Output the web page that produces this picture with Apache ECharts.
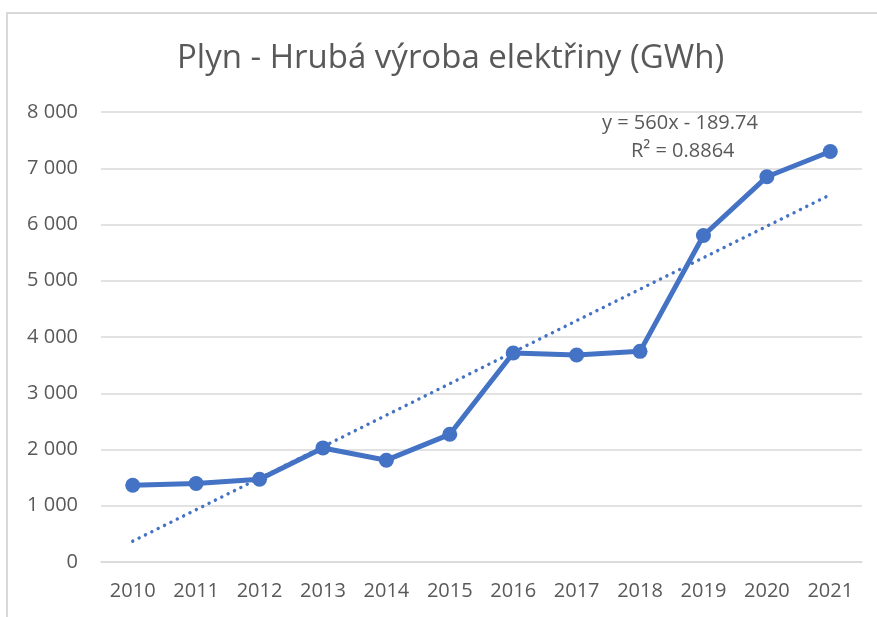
<!DOCTYPE html>
<html>
<head>
<meta charset="utf-8">
<script src="https://cdn.jsdelivr.net/npm/echarts@6/dist/echarts.min.js"></script>
<style>
  html, body { margin: 0; padding: 0; background: #fff; }
  #main { width: 877px; height: 617px; }
</style>
</head>
<body>
<div id="main"></div>
<script>
// Plyn - hrubá výroba elektřiny
var years = ['2010', '2011', '2012', '2013', '2014', '2015', '2016', '2017', '2018', '2019', '2020', '2021'];
var vyroba = [1365, 1395, 1472, 2028, 1810, 2270, 3715, 3680, 3745, 5805, 6848, 7298];
// lineární trend, koncové body
var trendYears = ['2010', '2021'];
var trendValues = [370, 6530];
var yTicks = [0, 1000, 2000, 3000, 4000, 5000, 6000, 7000, 8000];
var trendText = ['y = 560x - 189.74', 'R² = 0.8864'];

var font = '"Open Sans", "Noto Sans", sans-serif';
var grey = '#595959';
var blue = '#4472C4';

var chart = echarts.init(document.getElementById('main'), null, { renderer: 'canvas' });

function fmt(v) {
  return String(v).replace(/\B(?=(\d{3})+(?!\d))/g, ' ');
}

var option = {
  backgroundColor: '#fff',
  animation: false,
  title: {
    text: 'Plyn - Hrubá výroba elektřiny (GWh)',
    left: 172,
    top: 37,
    textStyle: { fontFamily: font, fontSize: 33, fontWeight: 'normal', color: grey }
  },
  grid: { left: 101, right: 15, top: 112, bottom: 55 },
  xAxis: {
    type: 'category',
    data: years,
    boundaryGap: true,
    axisLine: { lineStyle: { color: '#d9d9d9', width: 1.5 } },
    axisTick: { show: false },
    axisLabel: { color: grey, fontFamily: font, fontSize: 20, margin: 19 }
  },
  yAxis: {
    type: 'value',
    min: yTicks[0],
    max: yTicks[yTicks.length - 1],
    interval: 1000,
    axisLine: { show: false },
    axisTick: { show: false },
    splitLine: { lineStyle: { color: '#d9d9d9', width: 1.5 } },
    axisLabel: { color: grey, fontFamily: font, fontSize: 20, margin: 23, formatter: fmt }
  },
  graphic: [
    {
      type: 'rect',
      silent: true,
      shape: { x: 7, y: 13, width: 900, height: 700 },
      style: { fill: null, stroke: '#d9d9d9', lineWidth: 2 }
    },
    {
      type: 'text',
      left: 602,
      top: 113,
      style: { text: trendText[0], fill: grey, font: '20px ' + font }
    },
    {
      type: 'text',
      left: 631,
      top: 141,
      style: { text: trendText[1], fill: grey, font: '20px ' + font }
    }
  ],
  series: [
    {
      name: 'trend',
      type: 'line',
      data: trendYears.map(function (y, i) { return [y, trendValues[i]]; }),
      symbol: 'none',
      z: 1,
      lineStyle: { color: blue, width: 3.4, type: [0.1, 7], cap: 'round' }
    },
    {
      name: 'vyroba',
      type: 'line',
      data: vyroba,
      symbol: 'circle',
      symbolSize: 15,
      z: 2,
      itemStyle: { color: blue },
      lineStyle: { color: blue, width: 5 }
    }
  ]
};

chart.setOption(option);
</script>
</body>
</html>
